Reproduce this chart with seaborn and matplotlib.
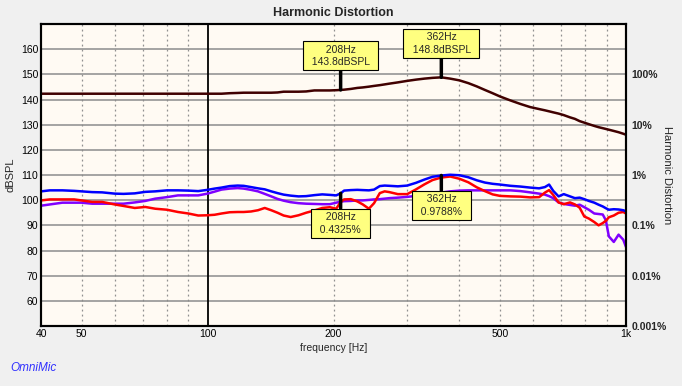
import numpy as np
import pandas as pd
import seaborn as sns
import matplotlib.pyplot as plt

# frequency grid (Hz) and measured levels (dBSPL)
freq = [40, 42, 45, 48, 50, 53, 56, 60, 63, 67, 71, 75, 80, 85, 90, 95,
        100, 104, 108, 113, 118, 122, 127, 132, 137, 142, 147, 152, 158, 165, 172, 180,
        188, 196, 203, 208, 212, 220, 228, 235, 243, 250, 258, 265, 272, 285, 300, 315,
        330, 345, 362, 380, 400, 420, 440, 460, 480, 500, 530, 560, 590, 620, 640, 655,
        670, 690, 710, 735, 755, 775, 795, 815, 840, 860, 880, 895, 910, 935, 960, 985, 1000]

fundamental = [142.3, 142.3, 142.3, 142.3, 142.3, 142.3, 142.3, 142.3, 142.3, 142.3, 142.3, 142.3, 142.3, 142.3, 142.3, 142.3,
               142.3, 142.3, 142.3, 142.5, 142.6, 142.7, 142.7, 142.7, 142.7, 142.7, 142.8, 143.1, 143.1, 143.1, 143.2, 143.6,
               143.6, 143.6, 143.7, 143.8, 143.9, 144.2, 144.6, 144.8, 145.1, 145.4, 145.7, 146.0, 146.3, 146.8, 147.4, 147.9,
               148.3, 148.6, 148.8, 148.3, 147.6, 146.5, 145.2, 143.8, 142.5, 141.2, 139.6, 138.2, 137.0, 136.2, 135.7, 135.3,
               134.9, 134.4, 133.8, 132.9, 132.3, 131.4, 130.8, 130.2, 129.5, 129.0, 128.6, 128.3, 128.0, 127.5, 127.0, 126.4, 126.0]

thd = [103.5, 103.9, 103.9, 103.7, 103.5, 103.2, 103.1, 102.6, 102.5, 102.7, 103.3, 103.5, 103.9, 103.9, 103.8, 103.6,
       104.1, 104.6, 105.0, 105.6, 105.8, 105.7, 105.2, 104.7, 104.3, 103.5, 102.8, 102.2, 101.8, 101.5, 101.6, 102.0,
       102.3, 102.1, 101.9, 102.7, 103.8, 104.0, 104.1, 104.0, 103.9, 104.2, 105.6, 105.8, 105.7, 105.5, 105.8, 106.9,
       108.2, 109.3, 109.8, 110.1, 109.9, 109.1, 107.9, 107.0, 106.5, 106.2, 105.7, 105.4, 105.0, 104.7, 105.2, 106.2,
       103.7, 101.5, 102.4, 101.5, 100.8, 101.0, 100.4, 99.7, 99.0, 98.2, 97.5, 96.8, 96.2, 96.4, 96.3, 96.0, 95.6]

h2 = [99.9, 100.3, 100.3, 100.3, 99.9, 99.3, 99.3, 98.3, 97.7, 96.9, 97.3, 96.6, 96.2, 95.3, 94.7, 93.9,
      94.0, 94.2, 94.7, 95.2, 95.3, 95.3, 95.5, 96.0, 96.9, 96.0, 95.0, 93.9, 93.3, 94.0, 95.0, 95.9,
      96.9, 97.2, 96.6, 99.3, 100.3, 100.4, 99.5, 98.3, 96.6, 98.8, 102.8, 103.5, 103.2, 102.4, 102.4, 104.3,
      106.3, 108.0, 109.0, 109.4, 108.5, 107.1, 105.1, 103.6, 102.3, 101.7, 101.5, 101.4, 101.1, 101.2, 103.0, 104.0,
      102.1, 99.1, 98.4, 99.1, 98.3, 97.0, 93.5, 92.7, 91.3, 90.0, 90.9, 91.8, 93.2, 93.9, 95.0, 95.3, 94.7]

h3 = [97.8, 98.3, 99.0, 99.0, 99.0, 98.6, 98.6, 98.6, 98.6, 99.1, 99.7, 100.6, 101.2, 101.9, 101.9, 101.9,
      102.6, 103.4, 104.2, 104.6, 104.8, 104.6, 104.1, 103.5, 102.5, 101.5, 100.5, 99.8, 99.2, 98.8, 98.6, 98.5,
      98.4, 98.4, 99.0, 99.4, 99.6, 99.7, 99.9, 99.9, 100.1, 100.3, 100.4, 100.6, 100.8, 101.0, 101.3, 101.7,
      102.2, 102.6, 103.0, 103.5, 103.8, 103.9, 103.9, 103.9, 103.9, 103.9, 103.9, 103.6, 103.1, 102.6, 102.2, 101.6,
      100.8, 99.1, 98.5, 98.1, 97.8, 98.2, 97.2, 96.2, 94.7, 94.5, 94.3, 92.0, 85.6, 83.4, 86.3, 84.3, 81.4]

series_colors = {"3rd": "#8000FF", "2nd": "#FF0000", "THD": "#0000FF", "Fundamental": "#400000"}

# cursor readouts
spl_marks = [(208, 143.8), (362, 148.8)]
pct_marks = [(208, 0.4325), (362, 0.9788)]

x_ticks = [40, 50, 100, 200, 500, 1000]
x_ticklabels = ["40", "50", "100", "200", "500", "1k"]
dotted_x = [50, 60, 70, 80, 90, 200, 300, 400, 500, 600, 700, 800, 900]
y_ticks = list(range(60, 170, 10))
pct_ticks = [0.001, 0.01, 0.1, 1, 10, 100]
pct_labels = ["0.001%", "0.01%", "0.1%", "1%", "10%", "100%"]

df = pd.DataFrame({
    "freq": freq * 4,
    "level": h3 + h2 + thd + fundamental,
    "series": ["3rd"] * len(freq) + ["2nd"] * len(freq) + ["THD"] * len(freq) + ["Fundamental"] * len(freq),
})

sns.set_style("white")
plt.rcParams["font.family"] = ["Liberation Sans", "DejaVu Sans"]

fig = plt.figure(figsize=(6.82, 3.86), dpi=100, facecolor="#F0F0F0")
ax = fig.add_axes([41 / 682, 1 - 326 / 386, 585 / 682, 302 / 386])
ax.set_facecolor("#FFFAF3")

sns.lineplot(data=df, x="freq", y="level", hue="series", palette=series_colors,
             hue_order=["3rd", "2nd", "THD", "Fundamental"], estimator=None, sort=False,
             linewidth=1.8, legend=False, ax=ax)

ax.set_xscale("log")
ax.set_xlim(40, 1000)
ax.set_ylim(50, 170)
ax.set_axisbelow(True)

for f in dotted_x:
    ax.axvline(f, color="#909090", lw=0.9, ls=(0, (1.5, 2.5)), zorder=0.5)
ax.axvline(100, color="black", lw=1.3, zorder=0.6)
for y in y_ticks:
    ax.axhline(y, color="#8C8C8C", lw=1.1, zorder=0.5)

ax.set_xticks(x_ticks)
ax.set_xticklabels(x_ticklabels)
ax.xaxis.set_minor_locator(plt.NullLocator())
ax.set_yticks(y_ticks)
ax.tick_params(axis="both", length=0, labelsize=7.5, colors="black")
ax.tick_params(axis="y", pad=2)
ax.tick_params(axis="x", pad=2)
ax.set_xlabel("frequency [Hz]", fontsize=7.5, labelpad=3)
ax.set_ylabel("dBSPL", fontsize=8, labelpad=4)
ax.set_title("Harmonic Distortion", fontsize=9, fontweight="bold", pad=6)

# right axis: percent, 100% = 150 dB, 20 dB per decade
ax2 = ax.twinx()
ax2.set_yscale("log")
ax2.set_ylim(1e-3, 1e3)
ax2.set_yticks(pct_ticks)
ax2.set_yticklabels(pct_labels, fontweight="bold")
ax2.yaxis.set_minor_locator(plt.NullLocator())
ax2.tick_params(axis="y", length=0, labelsize=7.5, pad=4)
ax2.set_ylabel("Harmonic Distortion", fontsize=8, rotation=270, labelpad=4)

for a in (ax, ax2):
    for s in a.spines.values():
        s.set_color("black")
        s.set_linewidth(1.5)

box = dict(boxstyle="square,pad=0.3", fc="#FFFF80", ec="black", lw=0.8)
stem = dict(arrowstyle="-", lw=2.5, color="black", shrinkA=0, shrinkB=0)
for f, v in spl_marks:
    ax2.annotate(f"  {f}Hz  \n  {v}dBSPL  ", xy=(f, 10 ** ((v - 150) / 20) * 100), xycoords="data",
                 xytext=(0, 34), textcoords="offset pixels", ha="center", va="center",
                 fontsize=7.5, linespacing=1.35, bbox=box, arrowprops=stem)
for f, p in pct_marks:
    ax2.annotate(f"  {f}Hz  \n  {p}%  ", xy=(f, p), xycoords="data",
                 xytext=(0, -30), textcoords="offset pixels", ha="center", va="center",
                 fontsize=7.5, linespacing=1.35, bbox=box, arrowprops=stem)

fig.text(10 / 682, 1 - 368 / 386, "OmniMic", color="#3030FF", style="italic", fontsize=8.5, va="center")

fig.savefig("out.png", dpi=100, facecolor=fig.get_facecolor())
